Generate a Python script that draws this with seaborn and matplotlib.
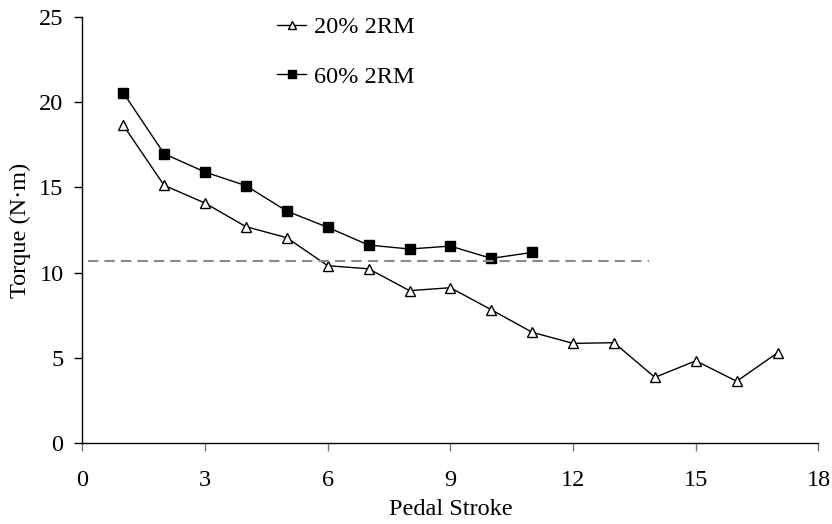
import numpy as np
import pandas as pd
import matplotlib
matplotlib.use("Agg")
import matplotlib.pyplot as plt
import seaborn as sns
from matplotlib.lines import Line2D

# Torque per pedal stroke for two load conditions
strokes_20 = [1, 2, 3, 4, 5, 6, 7, 8, 9, 10, 11, 12, 13, 14, 15, 16, 17]
torque_20 = [18.65, 15.12, 14.08, 12.70, 12.05, 10.41, 10.23, 8.95, 9.12,
             7.83, 6.51, 5.86, 5.90, 3.87, 4.84, 3.64, 5.31]

strokes_60 = [1, 2, 3, 4, 5, 6, 7, 8, 9, 10, 11]
torque_60 = [20.55, 16.97, 15.90, 15.10, 13.61, 12.66, 11.62, 11.39, 11.56,
             10.84, 11.19]

# Reference level (dashed) and its horizontal extent
ref_level = 10.69
ref_span = [0.15, 13.85]

series_labels = ["20% 2RM", "60% 2RM"]
x_ticks = [0, 3, 6, 9, 12, 15, 18]
y_ticks = [0, 5, 10, 15, 20, 25]

sns.set_theme(style="white", rc={"text.color": "black",
                                 "axes.labelcolor": "black",
                                 "xtick.color": "black",
                                 "ytick.color": "black"})
plt.rcParams["font.family"] = ["Liberation Serif", "DejaVu Serif"]

FS = 17.5

fig = plt.figure(figsize=(8.32, 5.24), dpi=100)
ax = fig.add_axes([82.3 / 832, 1 - 443.4 / 524, (818.5 - 82.3) / 832, (443.4 - 16.7) / 524])

df20 = pd.DataFrame({"stroke": strokes_20, "torque": torque_20})
df60 = pd.DataFrame({"stroke": strokes_60, "torque": torque_60})

sns.lineplot(data=df20, x="stroke", y="torque", ax=ax, color="black", lw=1.0,
             marker="^", markersize=7.8, markerfacecolor="white",
             markeredgecolor="black", markeredgewidth=1.0, zorder=3)
sns.lineplot(data=df60, x="stroke", y="torque", ax=ax, color="black", lw=1.0,
             marker="s", markersize=7.5, markerfacecolor="black",
             markeredgecolor="black", markeredgewidth=1.0, zorder=3)

ax.plot(ref_span, [ref_level, ref_level], color="#8a8a8a", lw=1.5,
        dashes=(5.0, 2.9), zorder=4)

ax.set_xlim(0, 18)
ax.set_ylim(0, 25)
ax.set_xticks(x_ticks)
ax.set_yticks(y_ticks)
ax.set_xlabel("Pedal Stroke", fontsize=FS, labelpad=6, color="black")
ax.set_ylabel("Torque (N\u00b7m)", fontsize=FS, labelpad=6, color="black")

for side in ["top", "right"]:
    ax.spines[side].set_visible(False)
for side in ["left", "bottom"]:
    ax.spines[side].set_color("black")
    ax.spines[side].set_linewidth(1.0)

ax.tick_params(axis="x", direction="out", length=6, width=1.0, color="#777777",
               labelcolor="black", labelsize=FS, pad=13, bottom=True)
ax.tick_params(axis="y", direction="out", length=5.5, width=1.0, color="black",
               labelcolor="black", labelsize=FS, pad=8, left=True)
ax.grid(False)

handles = [
    Line2D([], [], color="black", lw=1.0, marker="^", markersize=6,
           markerfacecolor="white", markeredgecolor="black"),
    Line2D([], [], color="black", lw=1.0, marker="s", markersize=6,
           markerfacecolor="black", markeredgecolor="black"),
]
fig.legend(handles, series_labels, loc="upper left",
           bbox_to_anchor=(277.3 / 832, 1 - 16 / 524), frameon=False,
           fontsize=FS, handlelength=1.2, handletextpad=0.3,
           labelspacing=1.15, borderpad=0, borderaxespad=0,
           labelcolor="black")

fig.savefig("out.png", dpi=100)
